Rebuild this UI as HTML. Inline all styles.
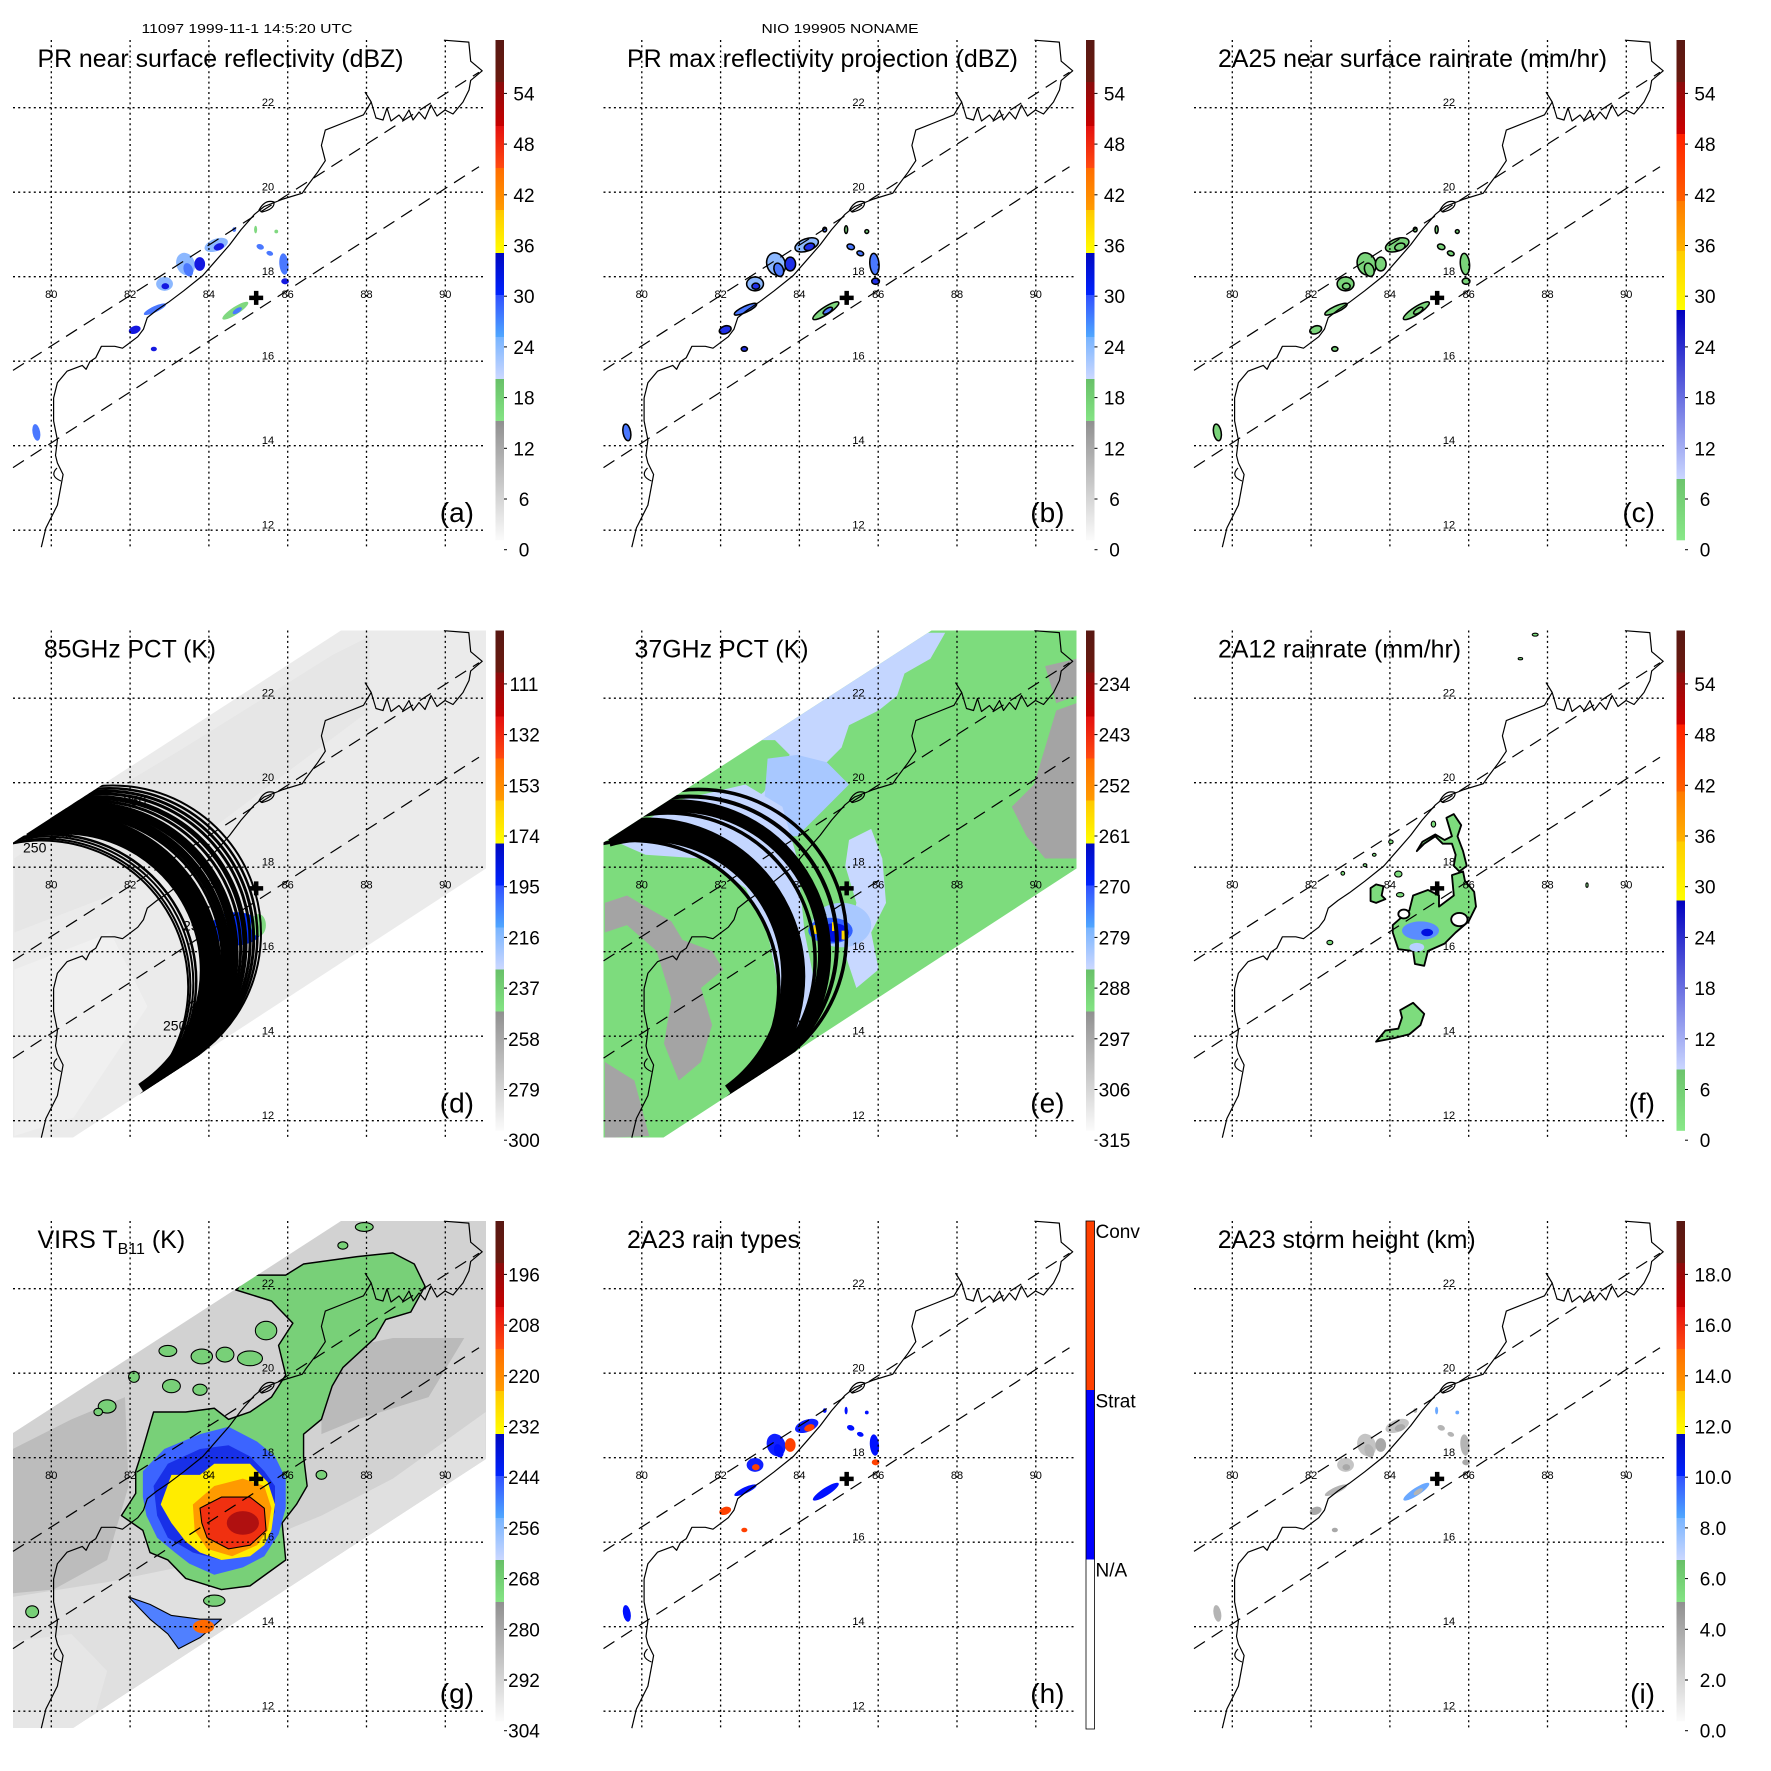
<!DOCTYPE html>
<html><head><meta charset="utf-8">
<style>
html,body{margin:0;padding:0;background:#fff;}
svg{display:block;font-family:"Liberation Sans",sans-serif;}
</style></head>
<body>
<svg id="fig" xmlns="http://www.w3.org/2000/svg" width="1771" height="1771" viewBox="0 0 1771 1771">
<defs>
<path id="coast" fill="none" stroke="#000" stroke-width="1.2" stroke-linejoin="round" d="M28.3,507.2 L32.9,488 L44.4,465.1 L50.1,434.5 L44.4,423 L42.5,415.4 L44.4,400 L40.6,380.9 L40.6,358 L44.4,342.7 L54,331.2 L69.3,325.4 L73.1,329.3 L76.9,321.6 L82.7,317.8 L88.4,306.3 L101.8,306.3 L109.5,308.2 L124.8,296.7 L130.5,289.1 L134.3,277.6 L143.9,270 L155.4,262.3 L170.7,250.8 L189.8,235.5 L203.2,220.2 L216.6,204.9 L228.1,189.6 L241.5,174.3 L251,166.6 L270.2,159 L289.3,153.2 L293.1,147.5 L304.6,132.2 L312.3,120.7 L308.4,105.4 L312.3,90.1 L331.4,82.5 L350.5,74.8 L358.2,62 L352,52 M358.2,62 L363,78 L370,80 L374,68 L378,81 L386,75 L390,80 L396,70 L400,80 L406,72 L412,79 L418,65 L424,76 L432,70 L440,74 L450,62 L456,50 L457.7,40.4 L469.2,30.8 L457.7,21.2 L455.8,2.1 L430.9,0.2 M246,170 Q252,159 261,162 Q262,169 249,172 Z M44,428 Q36,436 48,441"/>
<clipPath id="mapclip"><rect x="0" y="0" width="473" height="507"/></clipPath>
<clipPath id="swathclip"><polygon points="0,507 0,212 328,0 473,0 473,238 60,507"/></clipPath>
</defs>
</svg>
<script>
const NS="http://www.w3.org/2000/svg";
const svg=document.getElementById('fig');
function mk(tag,parent,at){const e=document.createElementNS(NS,tag);for(const k in at)e.setAttribute(k,at[k]);parent.appendChild(e);return e;}

// ---- data arrays ----
const lonTicks=[80,82,84,86,88,90];
const latTicks=[12,14,16,18,20,22];
const labRefl=['0','6','12','18','24','30','36','42','48','54'];
const lab85=['300','279','258','237','216','195','174','153','132','111'];
const lab37=['315','306','297','288','279','270','261','252','243','234'];
const labVirs=['304','292','280','268','256','244','232','220','208','196'];
const labHt=['0.0','2.0','4.0','6.0','8.0','10.0','12.0','14.0','16.0','18.0'];
const rainTypeLabels=['Conv','Strat','N/A'];
const stormLon=85.2, stormLat=17.5;

function X(lon){return 38.3+(lon-80)*39.4;}
function Y(lat){return 67.7+(22-lat)*42.25;}

const barA=[[0,42,'#581812','#6a1a10'],[42,86,'#8a0c0c','#c80000'],[86,128,'#e41010','#ff4a10'],[128,170,'#ff6c00','#ff9c00'],[170,213,'#ffc800','#ffff00'],[213,255,'#0008c0','#0024ff'],[255,297,'#3050ff','#50a8ff'],[297,339,'#78b4ff','#ccd8ff'],[339,381,'#68c068','#84e484'],[381,500,'#909090','#fbfbfb']];
const barB=[[0,42,'#581812','#6a1a10'],[42,94,'#8a0c0c','#d00000'],[94,161,'#ff2000','#ff6000'],[161,211,'#ff7a00','#ffb400'],[211,270,'#ffcc00','#ffff00'],[270,439,'#0000c0','#cad6ff'],[439,500,'#6cc46c','#88e888']];

const clusters=[[565,640,32,16,-20,'lb'],[572,645,14,9,-20,'db'],[485,690,24,30,-20,'lb'],[492,705,12,18,-20,'b'],[522,690,14,18,0,'db'],[430,742,22,18,0,'lb'],[432,748,10,8,0,'db'],[405,808,32,8,-25,'b'],[352,862,16,10,-20,'db'],[402,912,8,6,0,'db'],[615,812,40,10,-33,'g'],[620,812,14,6,-33,'b'],[680,645,10,7,20,'b'],[705,662,9,6,20,'b'],[742,690,12,28,-5,'b'],[745,735,10,8,0,'db'],[95,1130,10,22,-10,'b'],[668,600,4,10,0,'g'],[722,605,5,5,0,'g'],[612,600,5,6,0,'b']];

const panels=[
 {id:'a',c:0,r:0,title:'PR near surface reflectivity (dBZ)',tx:24.5,tw:366,bar:barA,lab:labRefl,kind:'refl'},
 {id:'b',c:1,r:0,title:'PR max reflectivity projection (dBZ)',tx:23.5,tw:391,bar:barA,lab:labRefl,kind:'max'},
 {id:'c',c:2,r:0,title:'2A25 near surface rainrate (mm/hr)',tx:24,tw:389,bar:barB,lab:labRefl,kind:'rr'},
 {id:'d',c:0,r:1,title:'85GHz PCT (K)',tx:31,tw:172,bar:barA,lab:lab85,kind:'pct85'},
 {id:'e',c:1,r:1,title:'37GHz PCT (K)',tx:31,tw:174,bar:barA,lab:lab37,kind:'pct37'},
 {id:'f',c:2,r:1,title:'2A12 rainrate (mm/hr)',tx:24,tw:243,bar:barB,lab:labRefl,kind:'tmi'},
 {id:'g',c:0,r:2,title:'VIRS',tx:24.5,tw:0,bar:barA,lab:labVirs,kind:'virs'},
 {id:'h',c:1,r:2,title:'2A23 rain types',tx:23.5,tw:173,bar:null,lab:null,kind:'type'},
 {id:'i',c:2,r:2,title:'2A23 storm height (km)',tx:23.7,tw:258,bar:barA,lab:labHt,kind:'ht'}
];

let t=mk('text',svg,{x:247,y:33,'font-size':13,'text-anchor':'middle',textLength:211,lengthAdjust:'spacingAndGlyphs'});


t.textContent='11097 1999-11-1 14:5:20 UTC';
t=mk('text',svg,{x:840,y:33,'font-size':13,'text-anchor':'middle',textLength:157,lengthAdjust:'spacingAndGlyphs'});


t.textContent='NIO 199905 NONAME';

let gid=0;
function addGrad(stops){
  const defs=svg.querySelector('defs');
  const id='gr'+(gid++);
  const lg=mk('linearGradient',defs,{id:id,x1:0,y1:0,x2:0,y2:1});
  mk('stop',lg,{offset:0,'stop-color':stops[0]});
  mk('stop',lg,{offset:1,'stop-color':stops[1]});
  return id;
}
function poly(parent,pts,fill,stroke,sw){
  const p=mk('polygon',parent,{points:pts,fill:fill});
  if(stroke){p.setAttribute('stroke',stroke);p.setAttribute('stroke-width',sw||1.5);p.setAttribute('stroke-linejoin','round');}
  return p;
}

function drawClusters(g,pal,stroke){
  const cg=mk('g',g,{transform:'translate(-13,-40) scale(0.38266)'});
  
  
  for(const c of clusters){
    const e=mk('ellipse',cg,{cx:c[0],cy:c[1],rx:c[2],ry:c[3],fill:pal[c[5]],transform:'rotate('+c[4]+' '+c[0]+' '+c[1]+')'});
    if(stroke){e.setAttribute('stroke','#000');e.setAttribute('stroke-width',4);}
    
    
  }
}

const inner={cx:28.9,cy:356.3,r:146.3,a0:-106,a1:50};
const outer={cx:100,cy:303,r:148,a0:-104,a1:72};
function ring(g,t,w){
  const L=(a,b)=>a+(b-a)*t;
  const cx=L(inner.cx,outer.cx),cy=L(inner.cy,outer.cy),r=L(inner.r,outer.r);
  const a0=L(inner.a0,outer.a0)*Math.PI/180,a1=L(inner.a1,outer.a1)*Math.PI/180;
  const x0=cx+r*Math.cos(a0),y0=cy+r*Math.sin(a0),x1=cx+r*Math.cos(a1),y1=cy+r*Math.sin(a1);
  const p=mk('path',g,{d:`M${x0},${y0} A${r},${r} 0 0 1 ${x1},${y1}`,fill:'none',stroke:'#000','stroke-width':w});
  
  
}
const rings85=[[0,2],[0.03,2],[0.07,2],[0.11,2.5],[0.31,22],[0.47,3],[0.53,8],[0.63,9],[0.72,3],[0.78,5],[0.85,3],[0.9,3],[0.95,2.5],[1,2]];
const rings37=[[0,3.5],[0.2,24],[0.5,3.5],[0.63,13],[0.8,4],[0.93,3.5]];

for(const P of panels){
  const ox=13+P.c*590.5, oy=40+P.r*590.5;
  const g=mk('g',svg,{transform:`translate(${ox},${oy})`});
  
  
  const m=mk('g',g,{'clip-path':'url(#mapclip)'});
  
  

  if(P.kind==='refl') drawClusters(m,{lb:'#8cb8ff',b:'#4a78ff',db:'#1418e0',g:'#80d880'},false);
  if(P.kind==='max') drawClusters(m,{lb:'#8cb8ff',b:'#4a78ff',db:'#2030e8',g:'#80d880'},true);
  if(P.kind==='rr') drawClusters(m,{lb:'#7ad47a',b:'#7ad47a',db:'#7ad47a',g:'#7ad47a'},true);
  if(P.kind==='type') drawClusters(m,{lb:'#1020ff',b:'#0010ff',db:'#ff4000',g:'#0010ff'},false);
  if(P.kind==='ht') drawClusters(m,{lb:'#c4c4c4',b:'#b4b4b4',db:'#a8a8a8',g:'#6aa8ff'},false);
  if(P.kind==='pct85'||P.kind==='pct37'){
    const s=mk('g',m,{'clip-path':'url(#swathclip)'});
    
    
    const bg=mk('rect',s,{x:0,y:0,width:473,height:507,fill:P.kind==='pct85'?'#ebebeb':'#7ddc7d'});
    
    
    const z=mk('g',s,{transform:'translate(-13.5,-31) scale(0.37)'});
    if(P.kind==='pct85'){
      poly(z,'40,700 300,520 500,400 900,150 1000,100 1000,300 600,600 300,800 40,900','#e6e6e6');
      poly(z,'40,1000 300,900 400,1100 200,1400 40,1450','#f0f0f0');
      const e1=mk('ellipse',z,{cx:640,cy:890,rx:70,ry:45,fill:'#0030ff'});
      
      
      mk('ellipse',z,{cx:700,cy:880,rx:20,ry:30,fill:'#80d880'});
      mk('ellipse',z,{cx:610,cy:895,rx:18,ry:40,fill:'#8cb8ff'});
    } else {
      poly(z,'480,330 560,260 640,220 720,180 800,150 860,120 900,90 960,90 920,160 850,200 830,260 780,300 700,340 680,400 640,440 600,470 560,520 520,560 480,600 440,600 420,560 470,520 500,470 540,420 500,380 460,380','#c4d6ff');
      poly(z,'480,430 560,420 640,440 700,500 640,560 600,600 560,640 520,640 500,600 470,560','#a8c8ff');
      poly(z,'60,650 250,540 420,500 520,560 560,700 580,900 620,1100 600,1180 560,1200 520,1100 480,900 420,780 300,700 150,690','#c4d6ff');
      poly(z,'700,650 760,620 790,700 800,820 760,900 780,1000 720,1050 690,960 720,820 690,720','#c8d8ff');
      poly(z,'40,900 100,880 180,950 220,1080 200,1200 240,1300 300,1250 330,1150 300,1050 360,1000 330,950 250,920 220,870 150,830 100,800 40,820','#a4a4a4');
      poly(z,'40,1250 120,1300 160,1450 40,1455','#a4a4a4');
      poly(z,'1140,560 1200,500 1260,300 1315,280 1315,700 1230,700 1180,640','#a4a4a4');
      poly(z,'1230,180 1315,160 1315,260 1260,280','#a4a4a4');
      mk('ellipse',z,{cx:680,cy:880,rx:80,ry:60,fill:'#a8c8ff'});
      mk('ellipse',z,{cx:650,cy:895,rx:60,ry:35,fill:'#3060ff'});
      mk('ellipse',z,{cx:660,cy:900,rx:40,ry:25,fill:'#0010e0'});
      for(const q of [[604,880],[654,872],[680,895]]) mk('rect',z,{x:q[0],y:q[1],width:14,height:24,fill:'#ffd800'});
    }
    const rg=mk('g',s,{});
    
    
    for(const rr of (P.kind==='pct85'?rings85:rings37)) ring(rg,rr[0],rr[1]);
    if(P.kind==='pct85'){
      for(const q of [[10,222],[36,208],[74,182],[110,175],[170,300],[150,400],[176,380]]){
        const tt=mk('text',rg,{x:q[0],y:q[1],'font-size':14,fill:'#000'});
        
        
        tt.textContent='250';
      }
    }
  }
  if(P.kind==='tmi'){
    const z=mk('g',m,{transform:'translate(-14,-31) scale(0.37)'});
    
    
    poly(z,'575,880 620,840 630,800 670,785 700,800 700,830 740,800 735,745 765,735 770,760 795,790 800,830 780,870 745,900 715,930 670,950 660,990 635,985 630,950 590,945 575,900','#7ddc7d','#000',5);
    poly(z,'720,590 740,580 760,610 750,640 765,680 775,720 755,735 740,720 745,690 735,660 710,660 690,640 660,660 640,680 655,655 690,635 715,650 735,640','#7ddc7d','#000',5);
    poly(z,'530,1195 555,1165 590,1160 600,1130 595,1110 630,1090 660,1120 650,1150 620,1175 580,1185','#7ddc7d','#000',5);
    poly(z,'515,780 530,770 550,775 545,800 555,810 530,820 515,815','#7ddc7d','#000',5);
    mk('ellipse',z,{cx:755,cy:865,rx:22,ry:18,fill:'#fff',stroke:'#000','stroke-width':5});
    mk('ellipse',z,{cx:605,cy:850,rx:15,ry:12,fill:'#fff',stroke:'#000','stroke-width':5});
    mk('ellipse',z,{cx:650,cy:895,rx:50,ry:25,fill:'#5a8cff'});
    mk('ellipse',z,{cx:668,cy:900,rx:16,ry:10,fill:'#0010e0'});
    mk('ellipse',z,{cx:640,cy:940,rx:20,ry:12,fill:'#b8d0ff'});
    for(const q of [[590,742,10,8],[595,798,10,6],[405,927,8,6],[685,607,6,8],[570,655,6,5],[525,690,5,4],[500,718,5,4],[440,740,5,5],[960,95,8,4],[920,160,6,3],[1100,772,3,6]]){
      mk('ellipse',z,{cx:q[0],cy:q[1],rx:q[2],ry:q[3],fill:'#7ddc7d',stroke:'#000','stroke-width':3});
    }
  }
  if(P.kind==='virs'){
    const s=mk('g',m,{'clip-path':'url(#swathclip)'});
    
    
    mk('rect',s,{x:0,y:0,width:473,height:507,fill:'#d2d2d2'});
    const z=mk('g',s,{transform:'translate(-13,-31) scale(0.35714,0.36996)'});
    poly(z,'36,1100 300,1060 600,1000 900,880 1100,780 1360,600 1360,730 180,1470 36,1470','#e0e0e0');
    poly(z,'36,700 200,620 350,560 360,800 330,900 300,1000 150,1080 36,1090','#bcbcbc');
    poly(z,'900,440 1100,400 1300,400 1200,560 1000,620 900,660','#bababa');
    poly(z,'36,1220 200,1200 300,1300 250,1470 36,1470','#e6e6e6');
    poly(z,'660,270 700,230 800,230 850,200 1000,180 1100,170 1160,200 1190,260 1150,330 1080,350 1050,400 960,480 930,530 900,620 850,660 850,720 860,800 830,850 790,900 800,1000 700,1070 620,1080 520,1050 470,1000 420,980 400,920 340,880 380,820 380,760 400,700 430,600 520,600 600,590 640,620 700,600 760,560 800,500 780,420 820,360 760,300','#78d078','#000',4);
    poly(z,'400,760 460,700 560,660 640,640 720,680 770,720 800,780 800,860 780,930 760,960 740,990 680,1020 600,1040 530,1010 490,980 440,940 410,880 400,830','#3c64ff');
    poly(z,'430,800 470,740 560,700 640,690 700,720 740,760 770,800 770,870 740,940 700,980 620,1000 540,980 470,940 440,880','#1830e8');
    poly(z,'450,850 480,770 560,770 600,740 700,740 750,790 770,850 760,920 740,960 700,990 620,1000 560,980 520,950 480,900','#ffec00');
    poly(z,'540,850 600,800 680,780 740,800 760,860 750,920 720,960 650,990 580,970 545,920','#ff9a00');
    poly(z,'560,860 620,830 700,830 740,860 745,920 700,960 640,970 580,940 565,900','#f03010','#000',3);
    mk('ellipse',z,{cx:680,cy:900,rx:45,ry:32,fill:'#b01010'});
    poly(z,'360,1100 420,1120 480,1150 560,1160 620,1160 560,1210 500,1240 470,1200 420,1160','#5080ff','#000',3);
    mk('ellipse',z,{cx:570,cy:1180,rx:30,ry:18,fill:'#ff6a00'});
    for(const q of [[470,435,25,15],[565,450,30,20],[630,445,25,20],[700,455,35,20],[745,380,30,25],[480,530,25,18],[375,505,15,15],[300,585,25,18],[275,600,12,10],[560,540,20,15],[960,150,14,10],[1020,100,25,12],[900,770,15,12],[90,1140,18,16],[600,1110,30,15]]){
      const e=mk('ellipse',z,{cx:q[0],cy:q[1],rx:q[2],ry:q[3],fill:'#78d078',stroke:'#000','stroke-width':3});
      
      
    }
  }

  const gg=mk('g',g,{stroke:'#000','stroke-width':1.3,'stroke-dasharray':'2,3.2'});
  
  
  for(const lon of lonTicks){const l=mk('line',gg,{x1:X(lon),y1:0,x2:X(lon),y2:507});}
  for(const lat of latTicks){const l=mk('line',gg,{x1:0,y1:Y(lat),x2:473,y2:Y(lat)});}
  const dg=mk('g',g,{stroke:'#000','stroke-width':1.2,'stroke-dasharray':'13,8',fill:'none'});
  
  
  mk('line',dg,{x1:0,y1:330.4,x2:466,y2:32.2});
  mk('line',dg,{x1:0,y1:427.6,x2:466,y2:126.7});
  const cu=mk('use',g,{href:'#coast'});
  
  
  for(const lon of lonTicks){const tt=mk('text',g,{x:X(lon),y:258,'font-size':11,'text-anchor':'middle'});tt.textContent=lon;}
  for(const lat of latTicks){const tt=mk('text',g,{x:255,y:Y(lat)-1.5,'font-size':11,'text-anchor':'middle'});tt.textContent=lat;}
  const cx=X(stormLon),cy=Y(stormLat);
  const cr=mk('path',g,{d:`M${cx-7},${cy} H${cx+7} M${cx},${cy-7} V${cy+7}`,stroke:'#000','stroke-width':4.5});
  
  
  const tt=mk('text',g,{x:P.tx,y:27,'font-size':25});
  
  
  if(P.kind==='virs'){
    tt.textContent='VIRS T';
    const sb=mk('tspan',tt,{'font-size':16,dy:6});sb.textContent='B11';
    const rest=mk('tspan',tt,{dy:-6});rest.textContent=' (K)';
  } else {
    tt.setAttribute('textLength',P.tw);
    tt.setAttribute('lengthAdjust','spacingAndGlyphs');
    tt.textContent=P.title;
  }
  const lt=mk('text',g,{x:461,y:482,'font-size':28,'text-anchor':'end'});
  
  
  lt.textContent='('+P.id+')';
  const cb=mk('g',g,{});
  
  
  if(P.bar){
    for(const s of P.bar){
      const id=addGrad([s[2],s[3]]);
      const rc=mk('rect',cb,{x:482.5,y:s[0],width:8.5,height:s[1]-s[0]+0.3,fill:`url(#${id})`});
      
      
    }
    P.lab.forEach((lb,k)=>{
      const y=509.7-k*50.7;
      const tk=mk('text',cb,{x:P.kind==='ht'?519:511,y:y+7,'font-size':19,'text-anchor':'middle'});
      
      
      tk.textContent=lb;
      mk('line',cb,{x1:491,y1:y,x2:494,y2:y,stroke:'#000','stroke-width':1});
    });
  } else {
    const segs=[[0,169,'#ff4000'],[169,338.5,'#0000ff'],[338.5,508,'#ffffff']];
    for(const s of segs){const rc=mk('rect',cb,{x:482.5,y:s[0],width:8.5,height:s[1]-s[0],fill:s[2]});}
    mk('rect',cb,{x:482.5,y:0,width:8.5,height:508,fill:'none',stroke:'#000','stroke-width':0.8});
    rainTypeLabels.forEach((lb,k)=>{
      const tk=mk('text',cb,{x:492,y:k*169.3+17,'font-size':19});
      
      
      tk.textContent=lb;
    });
  }
}
</script>
</body></html>
